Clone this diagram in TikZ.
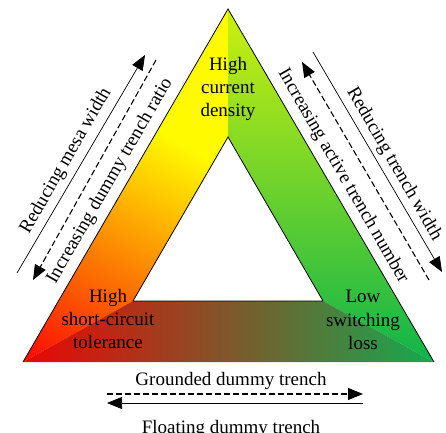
\documentclass[tikz,border=0pt]{standalone}
\usepackage{fontspec}
\setmainfont{Liberation Serif}
\usetikzlibrary{arrows.meta}

\definecolor{hotred}{RGB}{250,8,5}
\definecolor{hotorange}{RGB}{255,145,0}
\definecolor{hotyellow}{RGB}{255,250,0}
\definecolor{limegreen}{RGB}{205,240,15}
\definecolor{deepgreen}{RGB}{15,180,75}
\definecolor{brickred}{RGB}{235,5,5}
\definecolor{lossgreen}{RGB}{20,170,80}

\begin{document}
\begin{tikzpicture}[x=1pt,y=1pt,
  lbl/.style={font=\fontsize{19}{23.3}\selectfont, inner sep=0pt, align=center},
  facerim/.style={line width=0.8pt, line join=miter},
  trendarrow/.style={line width=0.7pt, -{Triangle[length=15pt,width=12pt]}},
  trenddash/.style={trendarrow, line width=1.1pt, dash pattern=on 6pt off 3pt}
]
\useasboundingbox (0,0) rectangle (446,432);

% outer and inner triangle corners
\coordinate (A)  at (228,423);
\coordinate (BL) at (23,70);
\coordinate (BR) at (434,70);
\coordinate (IA) at (228,295);
\coordinate (IL) at (133,131);
\coordinate (IR) at (323,131);

% left face: red -> orange -> yellow, rising towards the upper right
\begin{scope}
  \clip (BL) -- (IL) -- (IA) -- (A) -- cycle;
  \fill[hotyellow] (0,0) rectangle (446,432);
  \begin{scope}[transform canvas={rotate=-30}]
    \shade[bottom color=hotred, middle color=hotorange, top color=hotyellow]
      (-300,72) rectangle (600,340);
  \end{scope}
\end{scope}

% right face: lime at the top, green at the bottom
\begin{scope}
  \clip (A) -- (IA) -- (IR) -- (BR) -- cycle;
  \shade[top color=limegreen, bottom color=deepgreen] (228,70) rectangle (434,423);
\end{scope}

% bottom face: red on the left, green on the right
\begin{scope}
  \clip (BL) -- (BR) -- (IR) -- (IL) -- cycle;
  \shade[left color=brickred, right color=lossgreen] (23,70) rectangle (434,131);
\end{scope}

% outlines
\draw[facerim] (BL) -- (A) -- (BR);
\draw[facerim] (IL) -- (IA) -- (IR) -- cycle;

% corner labels
\node[lbl] (hcd) at (228,343) {High\\current\\density};
\node[lbl] (hsc) at (108,113) {High\\short-circuit\\tolerance};
\node[lbl] (lsl) at (363,112) {Low\\switching\\loss};

% left side trends
\coordinate (ml1) at (17,159);
\coordinate (ml2) at (145,377);
\draw[trendarrow] (ml1) -- (ml2);
\coordinate (dl1) at (156,372);
\coordinate (dl2) at (33,152);
\draw[trenddash] (dl1) -- (dl2);
\node[lbl, rotate=60] (rmw) at (66,271) {Reducing mesa width};
\node[lbl, rotate=60] (idr) at (110,251) {Increasing dummy trench ratio};

% right side trends
\coordinate (tr1) at (313,380);
\coordinate (tr2) at (442,160);
\draw[trendarrow] (tr1) -- (tr2);
\coordinate (ar1) at (429,152);
\coordinate (ar2) at (302,370);
\draw[trenddash] (ar1) -- (ar2);
\node[lbl, rotate=-60] (rtw) at (394,268) {Reducing trench width};
\node[lbl, rotate=-60] (iat) at (343,256) {Increasing active trench number};

% bottom trends
\coordinate (gd1) at (107,38);
\coordinate (gd2) at (363,38);
\draw[trenddash] (gd1) -- (gd2);
\coordinate (fd1) at (363,29);
\coordinate (fd2) at (107,29);
\draw[trendarrow] (fd1) -- (fd2);
\node[lbl, anchor=base] (gdt) at (231,47) {Grounded dummy trench};
\node[lbl, anchor=base] (fdt) at (231,-1) {Floating dummy trench};
\end{tikzpicture}
\end{document}
